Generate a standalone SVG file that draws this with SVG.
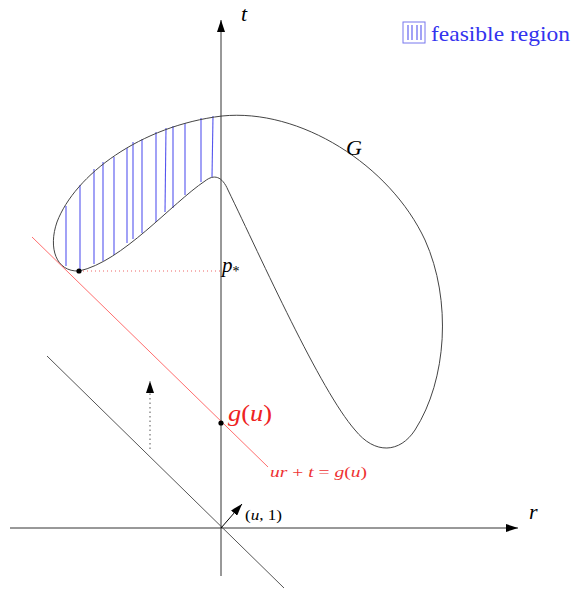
<svg xmlns="http://www.w3.org/2000/svg" width="573" height="590" viewBox="0 0 573 590">
<style>
.ax{stroke:#333;stroke-width:1;fill:none}
.h{stroke:#5555ee;stroke-width:1.1}
.m{font-family:"Liberation Serif",serif;font-style:italic}
</style>
<defs>
<marker id="ah" viewBox="0 0 12 8" refX="12" refY="4" markerWidth="12" markerHeight="8" markerUnits="userSpaceOnUse" orient="auto">
<path d="M0,0 L12,4 L0,8 Z" fill="#000"/>
</marker>
</defs>
<rect width="573" height="590" fill="#fff"/>
<g id="legend">
<rect x="403" y="22" width="22" height="21" fill="none" stroke="#7777ee" stroke-width="1"/>
<line x1="408" y1="25" x2="408" y2="40" class="h"/>
<line x1="412" y1="25" x2="412" y2="40" class="h"/>
<line x1="417" y1="25" x2="417" y2="40" class="h"/>
<line x1="421" y1="25" x2="421" y2="40" class="h"/>
<text x="431" y="41" font-family="Liberation Serif,serif" font-size="21" fill="#3333ee" textLength="139" lengthAdjust="spacingAndGlyphs">feasible region</text>
</g>
<g id="hatch">
<line x1="66" y1="206" x2="66" y2="266" class="h"/>
<line x1="80" y1="185" x2="80" y2="270" class="h"/>
<line x1="94" y1="169" x2="94" y2="264" class="h"/>
<line x1="103" y1="162" x2="103" y2="261" class="h"/>
<line x1="114" y1="157" x2="114" y2="255" class="h"/>
<line x1="127" y1="148" x2="127" y2="243" class="h"/>
<line x1="133" y1="142" x2="133" y2="239" class="h"/>
<line x1="142" y1="139" x2="142" y2="233" class="h"/>
<line x1="156" y1="132" x2="156" y2="222" class="h"/>
<line x1="166" y1="128" x2="165" y2="212" class="h"/>
<line x1="173" y1="126" x2="173" y2="208" class="h"/>
<line x1="185" y1="123" x2="185" y2="195" class="h"/>
<line x1="201" y1="118" x2="201" y2="182" class="h"/>
<line x1="213" y1="116" x2="212" y2="177" class="h"/>
</g>
<g id="curveG">
<path d="M79,271 C56,272 48,248 57,222 C75,175 140,126 222,116 C300,108 390,165 425,240 C452,300 447,380 415,430 C400,453 375,455 355,430 C320,390 262,260 228,190 C222,176 214,174 205,181 C172,203 122,262 79,271 Z" fill="none" stroke="#444" stroke-width="1"/>
<text x="346" y="155" class="m" font-size="22" fill="#000">G</text>
</g>
<g id="connectors">
<line x1="221" y1="576" x2="221" y2="20" class="ax" marker-end="url(#ah)"/>
<line x1="10" y1="528" x2="518" y2="528" class="ax" marker-end="url(#ah)"/>
<line x1="47" y1="356" x2="284" y2="588" stroke="#555" stroke-width="1"/>
<line x1="32" y1="237" x2="268" y2="467" stroke="#f55" stroke-opacity="0.85" stroke-width="1"/>
<line x1="221" y1="528" x2="242" y2="504" stroke="#000" stroke-width="1" marker-end="url(#ah)"/>
<line x1="150" y1="449" x2="150" y2="381" stroke="#555" stroke-width="1" stroke-dasharray="1.5,3" marker-end="url(#ah)"/>
<line x1="79" y1="271" x2="221" y2="271" stroke="#e66" stroke-width="1" stroke-dasharray="1,3"/>
</g>
<g id="points">
<circle cx="79" cy="271" r="2.6" fill="#000"/>
<circle cx="221" cy="423" r="2.6" fill="#000"/>
</g>
<g id="labels">
<text x="241" y="21" class="m" font-size="22">t</text>
<text x="529" y="519" class="m" font-size="22">r</text>
<text x="222" y="272" class="m" font-size="21">p<tspan font-size="14" dy="4" font-style="normal">*</tspan></text>
<text x="228" y="421" class="m" font-size="23" fill="#ee2222" textLength="44" lengthAdjust="spacingAndGlyphs">g<tspan font-style="normal">(</tspan>u<tspan font-style="normal">)</tspan></text>
<text x="270" y="477" class="m" font-size="15" fill="#ee3333" textLength="97" lengthAdjust="spacingAndGlyphs">ur <tspan font-style="normal">+</tspan> t <tspan font-style="normal">=</tspan> g<tspan font-style="normal">(</tspan>u<tspan font-style="normal">)</tspan></text>
<text x="245" y="520" font-family="Liberation Serif,serif" font-size="15" textLength="37" lengthAdjust="spacingAndGlyphs">(<tspan font-style="italic">u</tspan>, 1)</text>
</g>
</svg>
